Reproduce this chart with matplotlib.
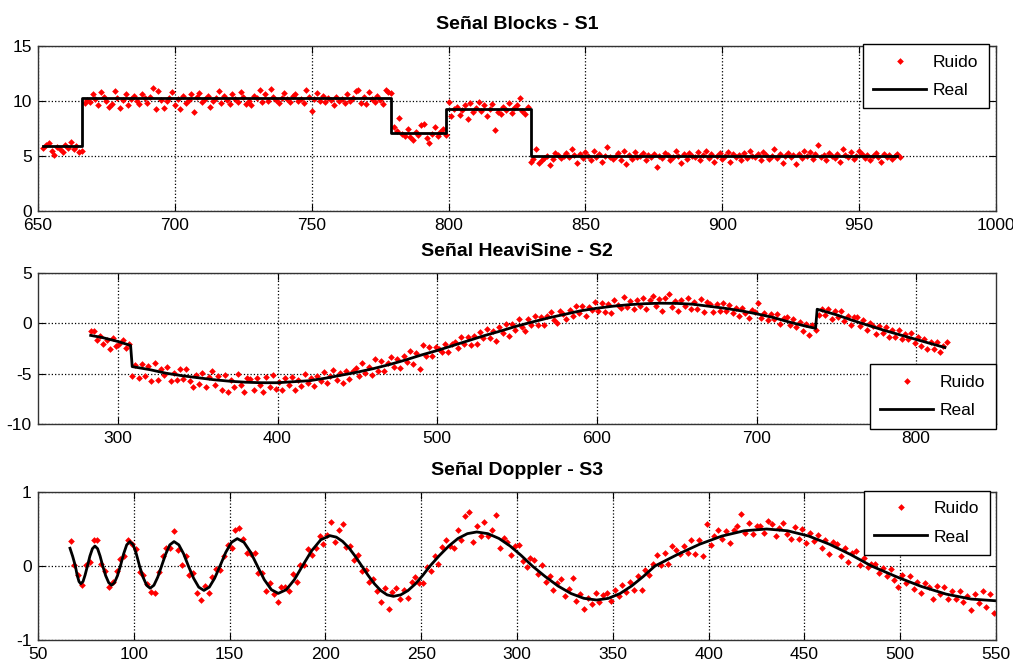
import matplotlib.pyplot as plt
import numpy as np

plt.rcParams['font.family'] = ['Liberation Sans', 'DejaVu Sans']
plt.rcParams['axes.unicode_minus'] = False

# ---- Señal Blocks - S1 ----
blocks_x_ruido = np.arange(652, 966)
blocks_ruido = [
    5.7, 6.0, 6.2, 5.5, 5.1, 5.8, 5.6, 5.4, 6.0, 5.7, 6.3, 5.6, 5.9, 5.4, 5.5,
    9.8, 10.1, 9.9, 10.6, 10.2, 9.6, 10.8, 10.4, 10.0, 9.5,
    9.7, 10.9, 10.3, 9.4, 10.1, 10.6, 9.6, 10.2, 10.5, 10.0,
    9.7, 10.6, 10.3, 9.8, 10.4, 11.2, 9.3, 10.9, 10.1, 9.4,
    10.0, 10.3, 10.8, 9.6, 10.2, 9.3, 10.5, 9.8, 10.1, 10.6,
    9.0, 10.4, 10.7, 9.9, 10.2, 10.5, 9.5, 10.0, 10.3, 10.9,
    9.8, 10.5, 10.1, 9.7, 10.6, 10.2, 9.9, 10.8, 10.4, 9.7,
    10.0, 9.6, 10.5, 10.3, 11.0, 9.9, 10.6, 10.0, 11.1, 10.4,
    10.1, 9.8, 10.3, 10.7, 10.2, 9.9, 10.5, 10.6, 10.0, 10.2,
    9.8, 11.0, 10.4, 9.1, 10.2, 10.7, 10.0, 10.5, 9.9, 10.3,
    10.1, 9.6, 10.4, 10.0, 10.2, 9.8, 10.6, 10.0, 10.3, 10.9,
    11.0, 9.8, 10.4, 9.7, 10.8, 10.2, 9.9, 10.5, 10.1, 9.7,
    11.0, 10.8, 10.7,
    7.6, 7.3, 8.5, 7.0, 6.8, 7.5, 6.7, 6.5, 7.2, 6.9,
    7.8, 7.9, 6.6, 6.2, 7.0, 7.6, 6.8, 7.2, 7.5, 6.9,
    9.9, 8.6, 9.3, 9.5, 8.7, 9.2, 9.6, 8.4, 9.8, 9.0,
    9.4, 9.9, 9.1, 9.6, 8.6, 9.3, 9.7, 7.4, 9.0, 8.8,
    9.5, 9.2, 9.8, 8.9, 9.4, 9.6, 10.3, 9.1, 8.8, 9.5,
    4.5, 4.7, 5.6, 4.4, 4.6, 4.8, 5.0, 4.2, 4.7, 5.3,
    5.1, 4.8, 5.0, 5.3, 4.9, 5.6, 5.1, 4.4, 5.2, 4.8,
    5.4, 5.0, 4.6, 5.5, 4.9, 5.2, 4.5, 5.0, 5.8, 4.9,
    4.7, 5.0, 5.3, 4.6, 5.5, 4.3, 5.1, 4.7, 5.4, 4.9,
    5.0, 5.3, 4.6, 5.1, 4.9, 5.2, 4.0, 5.0, 4.8, 5.3,
    5.1, 4.6, 4.9, 5.5, 5.0, 4.4, 5.2, 4.7, 5.3, 5.0,
    4.9, 5.4, 4.6, 5.1, 5.5, 4.8, 5.2, 4.5, 5.0, 5.3,
    4.7, 5.0, 5.4, 4.5, 5.2, 4.9, 5.1, 4.6, 5.3, 4.8,
    5.5, 5.0, 4.9, 5.2, 4.6, 5.4, 5.1, 4.7, 5.0, 5.6,
    4.8, 5.2, 4.4, 5.0, 5.3, 4.9, 5.1, 4.3, 5.2, 4.8,
    5.5, 5.0, 5.4, 4.7, 5.2, 6.0, 4.9, 5.1, 4.6, 5.3,
    5.0, 4.8, 5.2, 4.5, 5.6, 5.1, 4.9, 5.4, 4.7, 5.0,
    5.5, 5.2, 4.8, 5.1, 4.6, 5.0, 5.3, 4.9, 4.5, 5.2,
    4.9, 5.1, 4.7, 5.0, 5.2, 4.9,
]
# escalones de la señal real: bordes y niveles
blocks_bordes = [652, 666, 779, 799, 830, 964]
blocks_niveles = [5.9, 10.3, 7.1, 9.3, 5.0]

# ---- Señal HeaviSine - S2 ----
heavi_x_ruido = np.arange(283, 820, 2)
heavi_ruido = [
    -0.8, -0.8, -1.65, -1.25, -2.1, -1.7, -2.5, -1.45, -2.3, -2.1,
    -1.7, -2.45, -2.05, -5.2, -4.15, -5.4, -4.0, -5.25, -4.2, -5.75,
    -3.9, -5.65, -4.55, -5.1, -4.35, -5.7, -4.95, -5.6, -4.55, -5.5,
    -4.55, -5.7, -6.35, -5.1, -6.0, -4.95, -6.3, -5.35, -4.7, -6.1,
    -5.25, -6.6, -5.1, -6.85, -5.65, -6.3, -5.0, -6.1, -6.85, -5.45,
    -5.55, -6.6, -5.4, -6.1, -6.8, -5.3, -6.3, -5.1, -6.5, -5.8,
    -6.6, -5.45, -6.15, -5.35, -6.6, -5.6, -6.25, -5.05, -5.9, -5.4,
    -6.25, -5.2, -5.7, -4.85, -5.9, -5.25, -4.6, -5.65, -4.9, -5.9,
    -4.75, -5.5, -4.75, -4.4, -5.2, -3.95, -4.9, -4.3, -5.15, -3.55,
    -4.7, -3.7, -4.7, -3.95, -3.35, -4.35, -3.55, -4.4, -3.2, -3.8,
    -2.7, -4.0, -2.9, -4.5, -2.2, -3.2, -2.4, -3.2, -2.4, -2.5,
    -2.8, -2.05, -2.85, -2.05, -1.85, -2.45, -1.35, -2.05, -1.35, -2.15,
    -1.25, -2.05, -0.85, -1.45, -0.55, -1.45, -0.75, -1.75, -0.35, -1.0,
    -0.1, -1.3, -0.1, -0.7, 0.4, -0.35, -0.75, 0.45, -0.2, 0.7,
    -0.15, 0.65, -0.15, 0.7, 1.1, 0.35, 0.05, 1.2, 0.95, 0.45,
    1.3, 0.7, 1.75, 1.0, 1.75, 0.7, 1.65, 1.35, 2.1, 1.2,
    2.05, 1.1, 1.95, 1.0, 2.3, 1.85, 1.5, 2.6, 1.65, 2.25,
    1.4, 2.3, 1.75, 2.55, 1.4, 2.3, 2.7, 1.7, 2.4, 1.2,
    2.5, 2.9, 1.6, 2.2, 1.25, 2.35, 1.75, 2.5, 1.4, 2.15,
    1.45, 2.4, 1.15, 2.1, 1.9, 1.15, 1.9, 1.25, 2.0, 1.25,
    1.8, 1.05, 1.5, 0.75, 1.5, 1.05, 0.5, 1.3, 1.15, 2.0,
    0.55, 1.0, 0.3, 0.95, 0.45, 0.9, -0.1, 0.5, 0.6, -0.2,
    0.45, -0.35, 0.15, -0.8, -0.1, -1.15, -0.15, -0.7, 0.85, 1.45,
    0.85, 1.45, 0.45, 1.2, 0.6, 1.2, 0.2, 0.7, -0.2, 0.65,
    0.65, -0.25, 0.35, -0.65, 0.05, -0.25, -1.05, -0.25, -0.95, -0.35,
    -1.35, -0.65, -1.35, -0.7, -1.6, -1.1, -1.6, -1.0, -2.0, -1.35,
    -2.25, -1.55, -2.55, -1.85, -2.5, -1.9, -2.8, -2.25, -1.9,
]
heavi_x_real = [283, 290, 300, 308, 309, 320, 330, 340, 350, 360, 370, 380,
                390, 400, 410, 420, 430, 440, 450, 460, 470, 480, 490, 500,
                510, 520, 530, 540, 550, 560, 570, 580, 590, 600, 610, 620,
                630, 640, 650, 660, 670, 680, 690, 700, 710, 720, 730, 737,
                738, 750, 760, 770, 780, 790, 800, 810, 818]
heavi_real = [-1.2, -1.4, -1.8, -2.2, -4.3, -4.6, -4.95, -5.2, -5.4, -5.6,
              -5.75, -5.85, -5.9, -5.9, -5.8, -5.7, -5.45, -5.15, -4.85,
              -4.5, -4.1, -3.65, -3.15, -2.7, -2.2, -1.7, -1.2, -0.75, -0.27,
              0.15, 0.55, 0.9, 1.25, 1.5, 1.7, 1.85, 1.95, 2.0, 1.98, 1.9,
              1.7, 1.5, 1.25, 0.95, 0.6, 0.15, -0.25, -0.5, 1.4, 0.85, 0.3,
              -0.2, -0.7, -1.15, -1.6, -2.05, -2.4]

# ---- Señal Doppler - S3 ----
doppler_x_ruido = np.arange(67, 550, 2)
doppler_ruido = [
    0.34, 0.01, -0.12, -0.25, 0.02, 0.06, 0.35, 0.35, 0.03, -0.07,
    -0.28, -0.22, -0.07, 0.09, 0.14, 0.35, 0.30, 0.23, -0.08, -0.12,
    -0.24, -0.35, -0.36, -0.08, 0.14, 0.25, 0.24, 0.47, 0.22, 0.02,
    0.14, -0.12, -0.09, -0.37, -0.46, -0.27, -0.37, -0.15, -0.04, -0.06,
    0.14, 0.28, 0.25, 0.48, 0.52, 0.36, 0.17, 0.16, 0.17, -0.10,
    -0.09, -0.34, -0.23, -0.38, -0.48, -0.28, -0.28, -0.34, -0.11, -0.22,
    0.02, 0.01, 0.23, 0.15, 0.25, 0.41, 0.30, 0.42, 0.60, 0.33,
    0.48, 0.57, 0.26, 0.27, 0.08, 0.15, -0.07, -0.05, -0.22, -0.18,
    -0.34, -0.48, -0.30, -0.58, -0.35, -0.30, -0.45, -0.33, -0.43, -0.21,
    -0.15, -0.23, -0.23, -0.01, -0.07, 0.14, 0.03, 0.26, 0.35, 0.27,
    0.24, 0.48, 0.35, 0.67, 0.73, 0.33, 0.54, 0.40, 0.60, 0.41,
    0.49, 0.69, 0.25, 0.38, 0.33, 0.15, 0.27, 0.29, 0.07, -0.02,
    0.11, 0.08, -0.11, 0.01, -0.21, -0.13, -0.32, -0.23, -0.17, -0.40,
    -0.31, -0.16, -0.47, -0.38, -0.58, -0.43, -0.52, -0.37, -0.49, -0.39,
    -0.36, -0.47, -0.33, -0.41, -0.26, -0.35, -0.21, -0.32, -0.13, -0.32,
    -0.05, -0.12, 0.03, 0.15, 0.01, 0.17, 0.03, 0.27, 0.22, 0.16,
    0.27, 0.17, 0.35, 0.16, 0.35, 0.14, 0.57, 0.28, 0.41, 0.49,
    0.36, 0.47, 0.31, 0.49, 0.54, 0.70, 0.45, 0.58, 0.43, 0.54,
    0.54, 0.45, 0.61, 0.57, 0.41, 0.52, 0.58, 0.43, 0.36, 0.53,
    0.37, 0.50, 0.31, 0.45, 0.34, 0.42, 0.24, 0.35, 0.16, 0.33,
    0.30, 0.13, 0.24, 0.05, 0.18, 0.20, 0.02, 0.11, -0.02, 0.03,
    0.03, -0.10, -0.03, -0.13, -0.04, -0.19, -0.28, -0.12, -0.23, -0.14,
    -0.31, -0.21, -0.36, -0.23, -0.28, -0.44, -0.27, -0.38, -0.29, -0.44,
    -0.34, -0.44, -0.34, -0.48, -0.40, -0.60, -0.38, -0.50, -0.34, -0.55,
    -0.38, -0.64,
]
doppler_x_real = [
    66.7, 68.1, 69.5, 70.4, 71.4, 72.3, 73.5, 74.6, 75.8, 77.1, 78.4, 79.7,
    81.1, 82.4, 83.8, 85.3, 86.9, 88.4, 89.9, 91.5, 93.0, 94.7, 96.3, 98.0,
    99.7, 101.3, 103.0, 104.8, 106.7, 108.5, 110.5, 112.5, 114.5, 116.7,
    118.8, 121.0, 123.5, 126.0, 128.5, 131.2, 133.9, 136.6, 139.4, 142.2,
    145.0, 148.0, 151.0, 154.0, 157.5, 161.0, 164.5, 168.1, 171.8, 175.4,
    179.6, 183.8, 188.0, 192.8, 197.6, 202.4, 205.7, 209.0, 212.4, 215.7,
    219.0, 222.3, 225.6, 228.9, 232.2, 235.5, 239.3, 243.1, 247.0, 250.8,
    254.6, 259.5, 264.4, 269.2, 274.1, 279.0, 284.8, 290.6, 296.4, 302.2,
    308.0, 314.7, 321.4, 328.2, 334.9, 341.6, 347.7, 353.8, 359.8, 365.9,
    372.0, 383.7, 395.3, 407.0, 418.6, 430.3, 441.2, 452.2, 463.1, 474.1,
    485.0, 498.0, 511.0, 524.0, 537.0, 550.0,
]
doppler_real = [
    0.24, 0.13, 0.0, -0.12, -0.21, -0.24, -0.21, -0.12, 0.0, 0.135, 0.234,
    0.27, 0.234, 0.135, 0.0, -0.13, -0.225, -0.26, -0.225, -0.13, 0.0,
    0.165, 0.286, 0.33, 0.286, 0.165, 0.0, -0.15, -0.26, -0.30, -0.26,
    -0.15, 0.0, 0.165, 0.286, 0.33, 0.286, 0.165, 0.0, -0.165, -0.286,
    -0.33, -0.286, -0.165, 0.0, 0.185, 0.32, 0.37, 0.32, 0.185, 0.0,
    -0.185, -0.32, -0.37, -0.32, -0.185, 0.0, 0.205, 0.355, 0.41, 0.39,
    0.332, 0.241, 0.127, 0.0, -0.127, -0.241, -0.332, -0.39, -0.41, -0.39,
    -0.332, -0.241, -0.127, 0.0, 0.142, 0.27, 0.372, 0.437, 0.46, 0.437,
    0.372, 0.27, 0.142, 0.0, -0.142, -0.27, -0.372, -0.437, -0.46, -0.437,
    -0.372, -0.27, -0.142, 0.0, 0.155, 0.294, 0.405, 0.476, 0.50, 0.476,
    0.405, 0.294, 0.155, 0.0, -0.145, -0.276, -0.38, -0.447, -0.47,
]

W, H = 1013, 663
fig = plt.figure(figsize=(W / 100, H / 100), dpi=100)


def panel(top, bottom):
    return fig.add_axes([38 / W, 1 - bottom / H, 958 / W, (bottom - top) / H])


def estilo(ax, titulo, xlim, ylim, xticks, yticks):
    ax.set_xlim(xlim)
    ax.set_ylim(ylim)
    ax.set_xticks(xticks)
    ax.set_yticks(yticks)
    ax.grid(True, linestyle=':', color='black', linewidth=0.9)
    ax.tick_params(direction='in', top=True, right=True, length=5,
                   labelsize=12.5)
    ax.tick_params(axis='x', pad=5)
    ax.tick_params(axis='y', pad=4.5)
    for s in ax.spines.values():
        s.set_linewidth(1.0)
        s.set_color('#333333')
    ax.set_title(titulo, fontsize=14, fontweight='bold', pad=12)


def leyenda(ax, loc, anchor):
    ax.legend(loc=loc, bbox_to_anchor=anchor, fontsize=12.5, numpoints=1,
              fancybox=False, framealpha=1, edgecolor='black',
              handlelength=3.05, handletextpad=0.4, borderpad=0.6,
              labelspacing=0.75, borderaxespad=0)


pt = dict(linestyle='none', marker='D', markersize=3.4, color='#ff0000',
          markeredgewidth=0)
ln = dict(color='black', linewidth=2)

ax1 = panel(46, 211)
ax1.plot(blocks_x_ruido, blocks_ruido, label='Ruido', **pt)
ax1.plot(blocks_bordes, blocks_niveles + blocks_niveles[-1:],
         drawstyle='steps-post', label='Real', **ln)
estilo(ax1, 'Señal Blocks - S1', (650, 1000), (0, 15),
       range(650, 1001, 50), [0, 5, 10, 15])
leyenda(ax1, 'upper right', (0.9927, 1.012))

ax2 = panel(273, 424)
ax2.plot(heavi_x_ruido, heavi_ruido, label='Ruido', **pt)
ax2.plot(heavi_x_real, heavi_real, label='Real', **ln)
estilo(ax2, 'Señal HeaviSine - S2', (250, 850), (-10, 5),
       range(300, 801, 100), [-10, -5, 0, 5])
leyenda(ax2, 'lower right', (1.0, -0.03))

ax3 = panel(492, 640)
ax3.plot(doppler_x_ruido, doppler_ruido, label='Ruido', **pt)
ax3.plot(doppler_x_real, doppler_real, label='Real', **ln)
estilo(ax3, 'Señal Doppler - S3', (50, 550), (-1, 1),
       range(50, 551, 50), [-1, 0, 1])
leyenda(ax3, 'upper right', (0.9937, 1.008))

fig.savefig('out.png', dpi=100)
